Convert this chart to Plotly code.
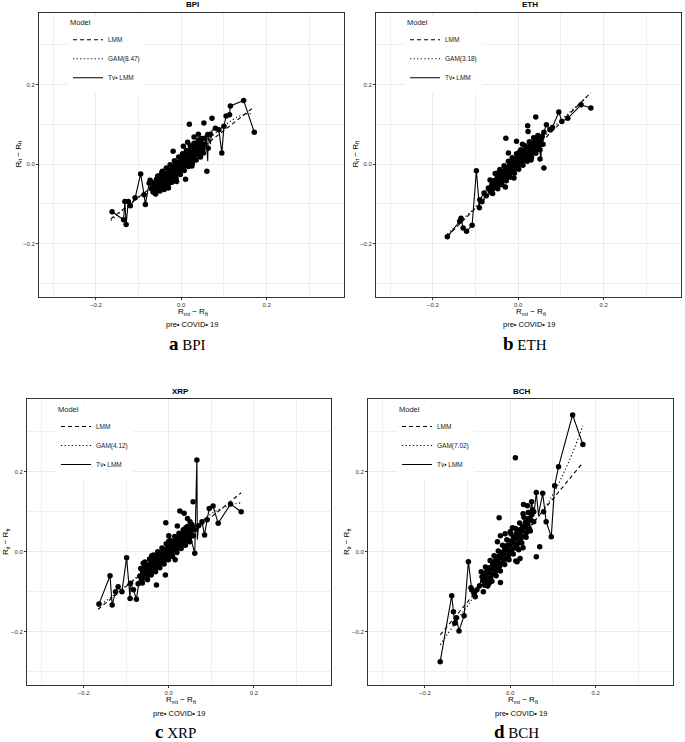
import plotly.graph_objects as go

# ---------------- data ----------------
panels = ["BPI", "ETH", "XRP", "BCH"]
letters = ["a", "b", "c", "d"]
gam_edf = ["8.47", "3.18", "4.12", "7.02"]

x_ticks = [-0.2, 0.0, 0.2]
x_ticktext = ["\u22120.2", "0.0", "0.2"]
minor_ticks = [-0.3, -0.1, 0.1, 0.3]

bpi_pts = [
    (-0.162, -0.120), (-0.135, -0.140), (-0.132, -0.094), (-0.129, -0.152), (-0.124, -0.094),
    (-0.119, -0.105), (-0.108, -0.085), (-0.095, -0.025), (-0.087, -0.077), (-0.084, -0.102),
    (-0.075, -0.048), (-0.073, -0.041), (-0.070, -0.062), (-0.066, -0.070), (-0.060, -0.075),
    (-0.065, -0.058), (-0.062, -0.050), (-0.060, -0.063), (-0.057, -0.044), (-0.055, -0.056),
    (-0.052, -0.066), (-0.050, -0.040), (-0.048, -0.050), (-0.046, -0.060), (-0.044, -0.033),
    (-0.042, -0.045), (-0.040, -0.054), (-0.038, -0.028), (-0.036, -0.038), (-0.034, -0.048),
    (-0.032, -0.022), (-0.030, -0.032), (-0.028, -0.042), (-0.026, -0.015), (-0.024, -0.026),
    (-0.022, -0.036), (-0.020, -0.008), (-0.018, -0.019), (-0.016, -0.030), (-0.014, -0.002),
    (-0.012, -0.012), (-0.010, -0.024), (-0.008, 0.004), (-0.006, -0.006), (-0.004, -0.017),
    (-0.002, 0.011), (0.000, 0.000), (0.002, -0.010), (0.004, 0.017), (0.006, 0.006),
    (0.008, -0.004), (0.010, 0.024), (0.012, 0.013), (0.014, 0.002), (0.016, 0.030),
    (0.018, 0.019), (0.020, 0.008), (0.022, 0.036), (0.024, 0.025), (0.026, 0.014),
    (0.028, 0.042), (0.030, 0.031), (0.032, 0.020), (0.034, 0.047), (0.036, 0.036),
    (0.038, 0.025), (0.040, 0.052), (0.042, 0.041), (0.044, 0.030), (0.046, 0.056),
    (0.048, 0.045), (0.050, 0.035),
    (-0.070, -0.045), (-0.062, -0.072), (-0.055, -0.030), (-0.050, -0.068), (-0.044, -0.018),
    (-0.040, -0.064), (-0.035, -0.010), (-0.030, -0.050), (-0.026, -0.002), (-0.022, -0.046),
    (-0.016, 0.008), (-0.012, -0.036), (-0.006, 0.018), (-0.002, -0.026), (0.003, 0.026),
    (0.007, -0.016), (0.012, 0.034), (0.017, -0.006), (0.021, 0.046), (0.026, 0.002),
    (0.030, 0.052), (0.035, 0.010), (0.040, 0.060), (0.045, 0.018), (0.048, 0.064),
    (0.052, 0.028), (0.055, 0.050), (-0.058, -0.038), (-0.047, -0.026), (0.044, 0.062),
    (-0.011, -0.044), (0.010, -0.038), (-0.019, 0.032), (0.005, 0.045), (0.019, 0.100),
    (0.030, 0.068), (0.040, 0.075), (0.053, 0.103), (0.072, 0.115), (0.060, -0.018),
    (0.055, 0.065), (0.062, 0.074), (0.063, 0.040), (-0.030, -0.060), (-0.045, -0.020),
    (0.025, -0.005), (0.015, 0.055),
    (0.068, 0.075), (0.080, 0.090), (0.088, 0.086), (0.095, 0.028), (0.100, 0.095),
    (0.105, 0.121), (0.113, 0.124), (0.115, 0.146), (0.146, 0.160), (0.171, 0.080),
]
bpi_tv = [
    (-0.162, -0.120), (-0.135, -0.140), (-0.132, -0.094), (-0.129, -0.152), (-0.124, -0.094),
    (-0.119, -0.105), (-0.108, -0.085), (-0.095, -0.025), (-0.087, -0.077), (-0.084, -0.102),
    (-0.075, -0.048), (-0.070, -0.062), (-0.063, -0.050), (-0.055, -0.056), (-0.048, -0.038),
    (-0.040, -0.050), (-0.033, -0.025), (-0.026, -0.036), (-0.018, -0.012), (-0.010, -0.022),
    (-0.003, 0.006), (0.004, -0.004), (0.011, 0.020), (0.018, 0.008), (0.025, 0.034),
    (0.032, 0.022), (0.038, 0.046), (0.044, 0.028), (0.050, 0.058), (0.055, 0.035),
    (0.058, 0.070), (0.062, 0.007), (0.063, 0.074), (0.068, 0.050), (0.072, 0.085),
    (0.080, 0.090), (0.088, 0.086), (0.095, 0.028), (0.100, 0.095), (0.105, 0.121),
    (0.113, 0.124), (0.115, 0.146), (0.146, 0.160), (0.171, 0.080),
]
bpi_lmm = [(-0.165, -0.138), (0.171, 0.144)]
bpi_gam = [(-0.165, -0.142), (-0.130, -0.110), (-0.090, -0.075), (-0.050, -0.040), (-0.020, -0.014),
           (0.000, 0.003), (0.030, 0.030), (0.060, 0.058), (0.090, 0.087), (0.120, 0.111),
           (0.145, 0.124), (0.168, 0.127)]

eth_pts = [
    (-0.166, -0.183), (-0.137, -0.144), (-0.134, -0.136), (-0.129, -0.161), (-0.121, -0.169),
    (-0.108, -0.154), (-0.098, -0.017), (-0.091, -0.110), (-0.090, -0.090), (-0.085, -0.095),
    (-0.080, -0.073), (-0.075, -0.080), (-0.070, -0.060), (-0.066, -0.068),
    (-0.062, -0.052), (-0.060, -0.063), (-0.058, -0.042), (-0.055, -0.047), (-0.053, -0.058),
    (-0.050, -0.036), (-0.048, -0.040), (-0.046, -0.051), (-0.044, -0.029), (-0.042, -0.034),
    (-0.040, -0.045), (-0.038, -0.022), (-0.036, -0.028), (-0.034, -0.039), (-0.032, -0.016),
    (-0.030, -0.021), (-0.028, -0.032), (-0.026, -0.009), (-0.024, -0.015), (-0.022, -0.026),
    (-0.020, -0.003), (-0.018, -0.009), (-0.016, -0.020), (-0.014, 0.004), (-0.012, -0.003),
    (-0.010, -0.014), (-0.008, 0.010), (-0.006, 0.003), (-0.004, -0.008), (-0.002, 0.017),
    (0.000, 0.009), (0.002, -0.002), (0.004, 0.023), (0.006, 0.015), (0.008, 0.004),
    (0.010, 0.029), (0.012, 0.021), (0.014, 0.010), (0.016, 0.035), (0.018, 0.027),
    (0.020, 0.016), (0.022, 0.041), (0.024, 0.033), (0.026, 0.022), (0.028, 0.047),
    (0.030, 0.039), (0.032, 0.028), (0.034, 0.053), (0.036, 0.045), (0.038, 0.034),
    (0.040, 0.058), (0.042, 0.050), (0.044, 0.040), (0.046, 0.062), (0.048, 0.054),
    (0.050, 0.046), (0.053, 0.060),
    (-0.066, -0.040), (-0.060, -0.074), (-0.054, -0.024), (-0.048, -0.062), (-0.043, -0.014),
    (-0.038, -0.052), (-0.033, -0.004), (-0.028, -0.042), (-0.023, 0.007), (-0.019, -0.033),
    (-0.014, 0.016), (-0.009, -0.023), (-0.004, 0.026), (0.001, -0.013), (0.006, 0.036),
    (0.011, -0.003), (0.016, 0.046), (0.021, 0.007), (0.026, 0.056), (0.031, 0.017),
    (0.036, 0.066), (0.041, 0.027), (0.046, 0.072), (0.051, 0.036), (0.056, 0.070),
    (0.058, 0.050), (-0.057, -0.052), (0.003, 0.030), (-0.040, -0.020), (0.035, 0.050),
    (-0.029, 0.065), (-0.004, 0.057), (-0.023, 0.028), (0.022, 0.096), (0.023, 0.082),
    (0.041, 0.118), (0.060, -0.010), (0.051, 0.013), (-0.030, -0.058), (-0.045, -0.020),
    (0.010, 0.050), (-0.010, -0.035), (0.030, 0.010),
    (0.055, 0.068), (0.060, 0.080), (0.066, 0.099), (0.074, 0.086), (0.080, 0.092),
    (0.095, 0.131), (0.102, 0.107), (0.116, 0.115), (0.147, 0.149), (0.170, 0.141),
]
eth_tv = [
    (-0.166, -0.183), (-0.137, -0.144), (-0.134, -0.136), (-0.129, -0.161), (-0.121, -0.169),
    (-0.108, -0.154), (-0.098, -0.017), (-0.091, -0.110), (-0.090, -0.090), (-0.080, -0.073),
    (-0.070, -0.060), (-0.062, -0.052), (-0.055, -0.047), (-0.047, -0.035), (-0.040, -0.045),
    (-0.032, -0.018), (-0.025, -0.028), (-0.018, -0.002), (-0.010, -0.012), (-0.003, 0.014),
    (0.004, 0.004), (0.011, 0.028), (0.018, 0.018), (0.025, 0.042), (0.032, 0.030),
    (0.038, 0.054), (0.044, 0.040), (0.048, 0.062), (0.053, 0.011), (0.055, 0.068),
    (0.060, 0.080), (0.066, 0.099), (0.074, 0.086), (0.080, 0.092), (0.095, 0.131),
    (0.102, 0.107), (0.116, 0.115), (0.147, 0.149), (0.170, 0.141),
]
eth_lmm = [(-0.166, -0.182), (0.170, 0.180)]
eth_gam = [(-0.166, -0.176), (-0.100, -0.108), (-0.050, -0.052), (0.000, 0.004), (0.050, 0.057),
           (0.100, 0.110), (0.164, 0.172)]

xrp_pts = [
    (-0.164, -0.131), (-0.138, -0.060), (-0.133, -0.133), (-0.125, -0.100), (-0.119, -0.0875),
    (-0.110, -0.100), (-0.099, -0.015), (-0.091, -0.117), (-0.090, -0.079), (-0.083, -0.095),
    (-0.076, -0.119), (-0.072, -0.080), (-0.068, -0.061), (-0.064, -0.070), (-0.060, -0.029),
    (-0.063, -0.045), (-0.061, -0.056), (-0.059, -0.066), (-0.056, -0.040), (-0.054, -0.050),
    (-0.052, -0.060), (-0.049, -0.034), (-0.047, -0.044), (-0.045, -0.054), (-0.042, -0.027),
    (-0.040, -0.037), (-0.038, -0.048), (-0.035, -0.021), (-0.033, -0.031), (-0.031, -0.041),
    (-0.028, -0.014), (-0.026, -0.024), (-0.024, -0.035), (-0.021, -0.007), (-0.019, -0.017),
    (-0.017, -0.028), (-0.014, 0.000), (-0.012, -0.010), (-0.010, -0.021), (-0.007, 0.007),
    (-0.005, -0.003), (-0.003, -0.014), (0.000, 0.014), (0.002, 0.004), (0.004, -0.007),
    (0.007, 0.020), (0.009, 0.010), (0.011, 0.000), (0.014, 0.027), (0.016, 0.017),
    (0.018, 0.007), (0.021, 0.034), (0.023, 0.024), (0.025, 0.014), (0.028, 0.040),
    (0.030, 0.030), (0.032, 0.020), (0.035, 0.047), (0.037, 0.037), (0.039, 0.027),
    (0.042, 0.053), (0.044, 0.043), (0.046, 0.033), (0.049, 0.058), (0.051, 0.048),
    (0.053, 0.039), (0.056, 0.062),
    (-0.066, -0.042), (-0.062, -0.078), (-0.056, -0.026), (-0.051, -0.067), (-0.045, -0.018),
    (-0.041, -0.058), (-0.036, -0.008), (-0.031, -0.050), (-0.026, 0.000), (-0.021, -0.040),
    (-0.016, 0.009), (-0.011, -0.031), (-0.006, 0.020), (-0.001, -0.020), (0.004, 0.028),
    (0.009, -0.012), (0.014, 0.038), (0.019, -0.002), (0.024, 0.046), (0.029, 0.008),
    (0.034, 0.055), (0.039, 0.016), (0.044, 0.063), (0.049, 0.025), (0.054, 0.068),
    (0.058, 0.040), (-0.055, -0.052), (0.000, 0.026), (-0.030, -0.012), (0.040, 0.060),
    (-0.029, -0.083), (-0.008, -0.058), (-0.007, 0.0725), (0.020, 0.064), (0.026, 0.102),
    (0.036, 0.096), (0.044, 0.083), (0.057, 0.125), (0.061, -0.004), (0.066, 0.229),
    (-0.040, -0.010), (0.000, 0.040), (-0.050, -0.070), (0.015, -0.020), (0.050, 0.075),
    (0.060, 0.055), (0.070, 0.065), (0.078, 0.075), (0.084, 0.042), (0.090, 0.080),
    (0.095, 0.108), (0.104, 0.114), (0.116, 0.071), (0.145, 0.119), (0.170, 0.100),
]
xrp_tv = [
    (-0.164, -0.131), (-0.138, -0.060), (-0.133, -0.133), (-0.125, -0.100), (-0.119, -0.0875),
    (-0.110, -0.100), (-0.099, -0.015), (-0.091, -0.117), (-0.090, -0.079), (-0.083, -0.095),
    (-0.076, -0.119), (-0.068, -0.061), (-0.060, -0.029), (-0.056, -0.050), (-0.049, -0.034),
    (-0.042, -0.044), (-0.035, -0.021), (-0.028, -0.031), (-0.021, -0.007), (-0.014, -0.017),
    (-0.007, 0.007), (0.000, -0.003), (0.007, 0.020), (0.014, 0.010), (0.021, 0.034),
    (0.028, 0.022), (0.035, 0.047), (0.042, 0.035), (0.049, 0.058), (0.055, 0.020),
    (0.061, -0.004), (0.066, 0.229), (0.067, 0.030), (0.070, 0.065), (0.078, 0.075),
    (0.084, 0.042), (0.090, 0.080), (0.095, 0.108), (0.104, 0.114), (0.116, 0.071),
    (0.145, 0.119), (0.170, 0.100),
]
xrp_lmm = [(-0.166, -0.144), (0.170, 0.1475)]
xrp_gam = [(-0.166, -0.137), (-0.100, -0.085), (-0.050, -0.040), (0.000, 0.005), (0.050, 0.050),
           (0.100, 0.095), (0.140, 0.115), (0.170, 0.1225)]

bch_pts = [
    (-0.164, -0.275), (-0.137, -0.110), (-0.133, -0.150), (-0.130, -0.179), (-0.126, -0.165),
    (-0.120, -0.198), (-0.108, -0.160), (-0.098, -0.025), (-0.092, -0.090), (-0.090, -0.096),
    (-0.085, -0.105), (-0.082, -0.1125), (-0.078, -0.095), (-0.072, -0.085), (-0.066, -0.0625),
    (-0.064, -0.072), (-0.062, -0.058), (-0.060, -0.084), (-0.057, -0.062), (-0.055, -0.049),
    (-0.053, -0.075), (-0.050, -0.053), (-0.048, -0.040), (-0.046, -0.066), (-0.043, -0.043),
    (-0.041, -0.030), (-0.039, -0.056), (-0.036, -0.034), (-0.034, -0.021), (-0.032, -0.047),
    (-0.029, -0.024), (-0.027, -0.011), (-0.025, -0.037), (-0.022, -0.015), (-0.020, -0.002),
    (-0.018, -0.028), (-0.015, -0.005), (-0.013, 0.008), (-0.011, -0.018), (-0.008, 0.004),
    (-0.006, 0.017), (-0.004, -0.009), (-0.001, 0.014), (0.001, 0.027), (0.003, 0.001),
    (0.006, 0.023), (0.008, 0.036), (0.010, 0.010), (0.013, 0.033), (0.015, 0.046),
    (0.017, 0.020), (0.020, 0.042), (0.022, 0.055), (0.024, 0.029), (0.027, 0.051),
    (0.029, 0.064), (0.031, 0.038), (0.034, 0.061), (0.036, 0.074), (0.038, 0.048),
    (0.041, 0.070), (0.043, 0.083), (0.045, 0.057), (0.048, 0.079), (0.050, 0.092),
    (-0.068, -0.050), (-0.063, -0.100), (-0.058, -0.038), (-0.053, -0.086), (-0.047, -0.022),
    (-0.043, -0.074), (-0.038, -0.010), (-0.033, -0.060), (-0.028, 0.002), (-0.023, -0.048),
    (-0.018, 0.016), (-0.013, -0.032), (-0.008, 0.030), (-0.003, -0.020), (0.002, 0.044),
    (0.007, -0.006), (0.012, 0.058), (0.017, 0.008), (0.022, 0.072), (0.027, 0.022),
    (0.032, 0.086), (0.037, 0.036), (0.042, 0.098), (0.047, 0.052), (0.052, 0.105),
    (0.055, 0.075), (-0.060, -0.070), (0.005, 0.060), (-0.035, -0.030), (0.030, 0.095),
    (0.023, -0.017), (0.016, -0.025), (-0.030, 0.025), (-0.012, 0.045), (0.030, 0.010),
    (-0.026, 0.085), (-0.023, 0.040), (-0.039, -0.029), (-0.023, -0.077), (0.012, 0.235),
    (0.013, -0.023), (0.031, 0.118), (0.040, 0.115), (0.050, 0.125), (0.055, 0.100),
    (-0.050, -0.080), (0.000, 0.050), (0.020, 0.005),
    (0.061, 0.148), (0.061, -0.0125), (0.069, 0.0125), (0.076, 0.146), (0.078, 0.100),
    (0.084, 0.075), (0.096, 0.0375), (0.104, 0.165), (0.113, 0.2125), (0.146, 0.342),
    (0.170, 0.268),
]
bch_tv = [
    (-0.164, -0.275), (-0.137, -0.110), (-0.133, -0.150), (-0.130, -0.179), (-0.126, -0.165),
    (-0.120, -0.198), (-0.108, -0.160), (-0.098, -0.025), (-0.090, -0.096), (-0.082, -0.1125),
    (-0.072, -0.085), (-0.066, -0.0625), (-0.060, -0.075), (-0.053, -0.050), (-0.046, -0.060),
    (-0.039, -0.032), (-0.032, -0.042), (-0.025, -0.015), (-0.018, -0.024), (-0.011, 0.004),
    (-0.004, -0.005), (0.003, 0.022), (0.010, 0.012), (0.017, 0.040), (0.024, 0.030),
    (0.031, 0.060), (0.038, 0.048), (0.045, 0.085), (0.050, 0.125), (0.055, 0.090),
    (0.061, 0.148), (0.066, 0.092), (0.076, 0.146), (0.084, 0.075), (0.096, 0.0375),
    (0.104, 0.165), (0.113, 0.2125), (0.146, 0.342), (0.170, 0.268),
]
bch_lmm = [(-0.164, -0.208), (0.170, 0.2225)]
bch_gam = [(-0.164, -0.233), (-0.130, -0.180), (-0.100, -0.135), (-0.060, -0.075), (-0.030, -0.035),
           (0.000, 0.005), (0.030, 0.040), (0.060, 0.080), (0.090, 0.125), (0.120, 0.185),
           (0.145, 0.245), (0.170, 0.315)]

all_pts = [bpi_pts, eth_pts, xrp_pts, bch_pts]
all_tv = [bpi_tv, eth_tv, xrp_tv, bch_tv]
all_lmm = [bpi_lmm, eth_lmm, xrp_lmm, bch_lmm]
all_gam = [bpi_gam, eth_gam, xrp_gam, bch_gam]

# ---------------- layout geometry (pixels of a 685x742 page) ----------------
W, H = 685, 742
AX_RANGE = [-0.333, 0.381]
# panel boxes: (left, right, top, bottom) in px
boxes = [(39, 344, 12.5, 296.5), (376, 681, 12.5, 296.5),
         (27, 331, 399.3, 684.9), (368, 673, 399.3, 684.9)]


def px(v):
    return v / W


def py(v):
    return 1 - v / H


fig = go.Figure()
SANS = "Liberation Sans, Arial, sans-serif"
SERIF = "Liberation Serif, Times New Roman, serif"

annotations = []
for i, name in enumerate(panels):
    xa = "x" if i == 0 else f"x{i+1}"
    ya = "y" if i == 0 else f"y{i+1}"
    lg = "legend" if i == 0 else f"legend{i+1}"
    pts, tv, lmm, gam = all_pts[i], all_tv[i], all_lmm[i], all_gam[i]

    fig.add_trace(go.Scatter(x=[p[0] for p in pts], y=[p[1] for p in pts], mode="markers",
                             marker=dict(size=5.5, color="black"), showlegend=False,
                             xaxis=xa, yaxis=ya, hoverinfo="skip"))
    fig.add_trace(go.Scatter(x=[p[0] for p in lmm], y=[p[1] for p in lmm], mode="lines",
                             line=dict(color="black", width=1.1, dash="4px,3px"),
                             name="LMM", legend=lg, xaxis=xa, yaxis=ya))
    fig.add_trace(go.Scatter(x=[p[0] for p in gam], y=[p[1] for p in gam], mode="lines",
                             line=dict(color="black", width=1.1, dash="1.2px,2.4px", shape="spline"),
                             name=f"GAM({gam_edf[i]})", legend=lg, xaxis=xa, yaxis=ya))
    fig.add_trace(go.Scatter(x=[p[0] for p in tv], y=[p[1] for p in tv], mode="lines",
                             line=dict(color="black", width=1.1),
                             name="Tv\u2022 LMM", legend=lg, xaxis=xa, yaxis=ya))

    L, R, T, B = boxes[i]
    axis_common = dict(range=AX_RANGE, showgrid=True, gridcolor="#EBEBEB", gridwidth=1,
                       zeroline=False, showline=True, linecolor="#333333", linewidth=1,
                       mirror=True, ticks="outside", ticklen=2, tickwidth=0.8,
                       tickcolor="#333333",
                       tickfont=dict(size=6, color="#333333", family=SANS),
                       tickvals=x_ticks, ticktext=x_ticktext,
                       minor=dict(tickvals=minor_ticks, showgrid=True, gridcolor="#F0F0F0",
                                  gridwidth=0.6, ticks=""))
    fig.update_layout(**{
        ("xaxis" if i == 0 else f"xaxis{i+1}"): dict(axis_common, domain=[px(L), px(R)],
                                                   anchor=ya),
        ("yaxis" if i == 0 else f"yaxis{i+1}"): dict(axis_common, domain=[py(B), py(T)],
                                                   anchor=xa),
        lg: dict(x=px(L + 29), y=py(T + 3), xanchor="left", yanchor="top",
                 bgcolor="white", borderwidth=0,
                 font=dict(size=6.5, color="#222222", family=SANS),
                 title=dict(text="Model", font=dict(size=7.5, color="#222222", family=SANS)),
                 tracegroupgap=0),
    })

    cx = (L + R) / 2
    annotations += [
        dict(text=f"<b>{name}</b>", x=px(cx + 1), y=py(T - 8), font=dict(size=8, family=SANS)),
        dict(text="R<sub>mt</sub> \u2212 R<sub>ft</sub>", x=px(cx + 2), y=py(B + 15),
             font=dict(size=8, family=SANS)),
        dict(text="pre\u2022 COVID\u2022 19", x=px(cx), y=py(B + 28.5),
             font=dict(size=7.5, family=SANS)),
        dict(text="R<sub>it</sub> \u2212 R<sub>ft</sub>", x=px(L - 21), y=py((T + B) / 2),
             textangle=-90, font=dict(size=8, family=SANS)),
        dict(text=f"<b><span style='font-size:19px'>{letters[i]}</span></b> {name}",
             x=px(cx - 4), y=py(B + 47), font=dict(size=15, family=SERIF)),
    ]

for a in annotations:
    a.update(xref="paper", yref="paper", showarrow=False, xanchor="center", yanchor="middle")

fig.update_layout(width=W, height=H, margin=dict(l=0, r=0, t=0, b=0),
                  paper_bgcolor="white", plot_bgcolor="white",
                  font=dict(color="black", family=SANS),
                  annotations=annotations)

fig.write_html("out.html", config={"displayModeBar": False},
               post_script="document.body.style.margin='0px';document.body.style.padding='0px';")
